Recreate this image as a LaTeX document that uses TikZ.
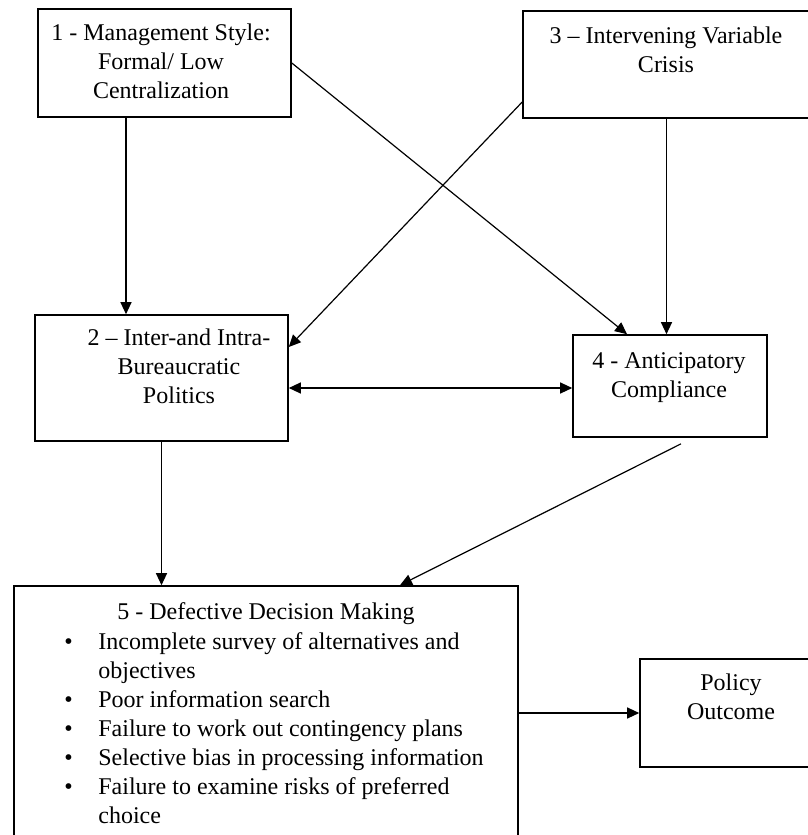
\documentclass[tikz,border=0pt]{standalone}
\usepackage{fontspec}
\setmainfont{Liberation Serif}
\usetikzlibrary{arrows.meta}

\begin{document}
\begin{tikzpicture}[x=0.5pt, y=-0.5pt,
    box/.style={draw, line width=0.8pt, inner sep=0pt},
    lbl/.style={align=center, inner sep=0pt, anchor=north, font=\fontsize{12}{14.5}\selectfont},
    arr/.style={line width=0.6pt, -{Triangle[length=6pt, width=5.5pt]}}]
        \useasboundingbox (0,0) rectangle (808,835);
        \clip (0,0) rectangle (808,835);

        % Nodes
        \node[box, minimum width=126.5pt, minimum height=54pt] (ms) at (164.5,63) {};
        \node[box, minimum width=143.5pt, minimum height=53.5pt] (iv) at (666.5,64.5) {};
        \node[box, minimum width=126.5pt, minimum height=63pt] (bp) at (161.5,378) {};
        \node[box, minimum width=97pt, minimum height=51pt] (ac) at (670,386) {};
        \node[box, minimum width=252pt, minimum height=132pt] (dd) at (266,718) {};
        \node[box, minimum width=91pt, minimum height=54pt] (po) at (731,713) {};

        % Texts
        \node[lbl] (ms-t) at (161,23) {1 - Management Style:\\Formal/ Low\\Centralization};
        \node[lbl] (iv-t) at (666,26) {3 – Intervening Variable\\Crisis};
        \node[lbl] (bp-t) at (179,328) {2 – Inter-and Intra-\\Bureaucratic\\Politics};
        \node[lbl] (ac-t) at (669,352) {4 - Anticipatory\\Compliance};
        \node[lbl] (dd-t) at (266,602) {5 - Defective Decision Making};
        \node[lbl, anchor=north west, align=left] (dd-l) at (64,632) {%
            \makebox[17pt][l]{\textbullet}Incomplete survey of alternatives and\\
            \hspace*{17pt}objectives\\
            \makebox[17pt][l]{\textbullet}Poor information search\\
            \makebox[17pt][l]{\textbullet}Failure to work out contingency plans\\
            \makebox[17pt][l]{\textbullet}Selective bias in processing information\\
            \makebox[17pt][l]{\textbullet}Failure to examine risks of preferred\\
            \hspace*{17pt}choice};
        \node[lbl] (po-t) at (731,673) {Policy\\Outcome};

        % Edges
        \coordinate (ms-s) at ([xshift=-19.25pt]ms.south);
        \coordinate (bp-e) at ([yshift=-5pt]bp.east);
        \draw[arr] (ms-s) -- (ms-s |- bp.north);
        \draw[arr] (ms.east) -- ([xshift=-21.5pt]ac.north);
        \draw[arr] ([yshift=-18.75pt]iv.west) -- ([yshift=15.5pt]bp.east);
        \draw[arr] (iv.south) -- (iv.south |- ac.north);
        \draw[arr, {Triangle[length=6pt, width=5.5pt]}-{Triangle[length=6pt, width=5.5pt]}] (bp-e) -- (bp-e -| ac.west);
        \draw[arr] (bp.south) -- (bp.south |- dd.north);
        \draw[arr] ([xshift=5.5pt, yshift=-3pt]ac.south) -- ([xshift=67pt]dd.north);
        \draw[arr] (po.west -| dd.east) -- (po.west);
    \end{tikzpicture}
\end{document}
